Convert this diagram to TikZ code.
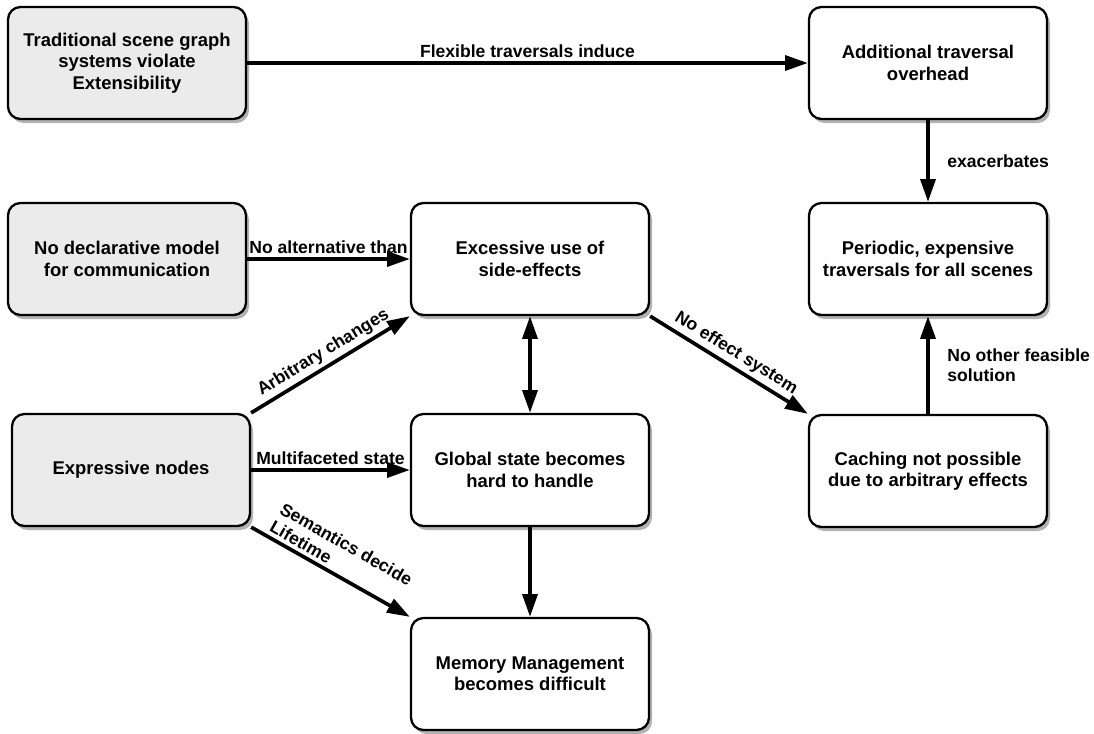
\documentclass[tikz,border=0pt]{standalone}
\usepackage{fontspec}
\setmainfont{Liberation Sans}
\usepackage{tikz}
\usetikzlibrary{arrows.meta}
\usetikzlibrary{positioning, shadows}

\begin{document}
\begin{tikzpicture}[issue_node/.style={rectangle,rounded corners=0.25cm,draw,line width=1.3pt,fill=black!8,minimum width=4.76cm,minimum height=2.24cm,align=center,font=\fontsize{10.5}{12.2}\selectfont\bfseries,drop shadow={shadow xshift=0.06cm,shadow yshift=-0.08cm,fill=black!30,opacity=1}},
	effect_node/.style={issue_node,fill=white},
	>={Triangle[length=13pt,width=8.5pt]}]
				\useasboundingbox (0,0) rectangle (21.88,-14.66);
				\node[issue_node](trad) at (2.54,-1.26){Traditional scene graph\\systems violate\\Extensibility};
				\node[effect_node](add) at (18.56,-1.26){Additional traversal\\overhead};
				\node[issue_node](nodecl) at (2.54,-5.18){No declarative model\\for communication};
				\node[effect_node](exc) at (10.6,-5.18){Excessive use of\\side-effects};
				\node[effect_node](peri) at (18.56,-5.18){Periodic, expensive\\traversals for all scenes};
				\node[issue_node](expr) at (2.62,-9.4){Expressive nodes};
				\node[effect_node](glob) at (10.6,-9.4){Global state becomes\\hard to handle};
				\node[effect_node](cach) at (18.56,-9.42){Caching not possible\\due to arbitrary effects};
				\node[effect_node](mem) at (10.6,-13.48){Memory Management\\becomes difficult};
				\path[every edge/.style={draw,line width=2.1pt}, every node/.style={font=\fontsize{10}{11.5}\selectfont\bfseries,inner sep=2pt,align=left}]
				(trad) edge[->]              node[above] {Flexible traversals induce} (add)
				(add) edge[->]               node[right=8pt] {exacerbates} (peri)
				(nodecl) edge[->]            node[above] {No alternative than} (exc)
				(expr.north east) edge[->]   node[above,sloped] {Arbitrary changes} (exc.south west)
				(expr) edge[->]              node[above] {Multifaceted state} (glob)
				(expr.south east) edge[->]   node[above,sloped] {Semantics decide\\Lifetime} (mem.north west)
				(exc) edge[<->]              node {} (glob)
				(glob) edge[->]              node {} (mem)
				(exc.south east) edge[->]    node[above,sloped] {No effect system} (cach.north west)
				(cach) edge[->]              node[right=8pt] {No other feasible\\solution} (peri);
			\end{tikzpicture}
\end{document}
